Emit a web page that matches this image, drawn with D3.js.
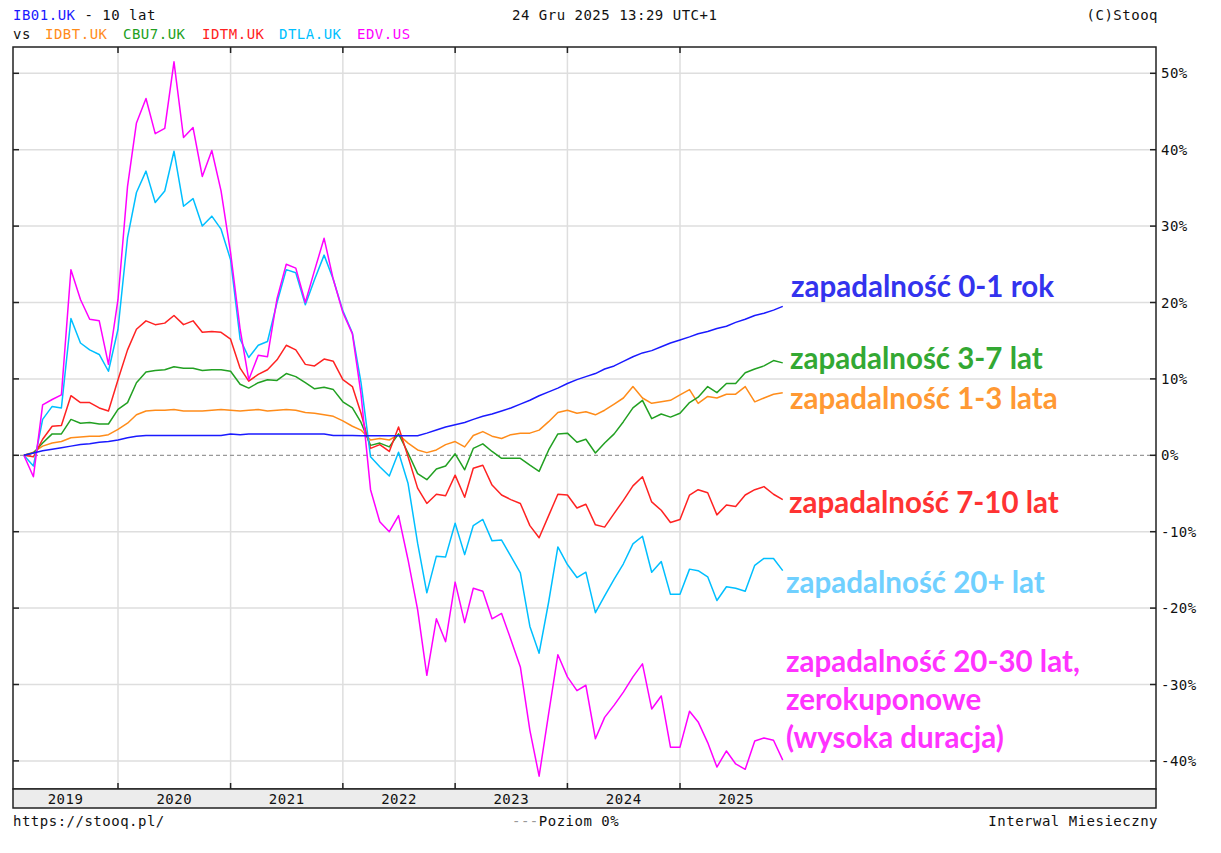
<!DOCTYPE html>
<html>
<head>
<meta charset="utf-8">
<script src="https://cdn.jsdelivr.net/npm/d3@7"></script>
<style>
body{margin:0;background:#fff}
svg{display:block}
.mono{font-family:"DejaVu Sans Mono",monospace;font-size:14px;letter-spacing:0.5px;fill:#111}
.note{font-family:Lato,"Open Sans",sans-serif;font-weight:bold;font-size:29.5px}
</style>
</head>
<body>
<svg id="chart" width="1221" height="853"></svg>
<script>
// monthly points, first one at march 2019, last one at december 2025
var months = d3.utcMonth.range(new Date(Date.UTC(2019,2,1)), new Date(Date.UTC(2026,0,1)));

// % change since start
var ib01 = [0,0.3,0.6,0.8,1.0,1.2,1.4,1.5,1.7,1.8,
  2.0,2.3,2.5,2.6,2.6,2.6,2.6,2.6,2.6,2.6,
  2.6,2.6,2.8,2.7,2.8,2.8,2.8,2.8,2.8,2.8,
  2.8,2.8,2.8,2.6,2.6,2.6,2.55,2.55,2.55,2.55,
  2.55,2.55,2.55,2.9,3.3,3.7,4.0,4.3,4.7,5.1,
  5.4,5.8,6.2,6.7,7.2,7.8,8.3,8.8,9.4,9.9,
  10.3,10.7,11.3,11.7,12.3,12.9,13.4,13.7,14.2,14.7,
  15.1,15.5,15.9,16.2,16.6,16.9,17.4,17.8,18.3,18.6,
  19.0,19.5];
var idbt = [0,0.4,1.2,1.6,1.8,2.3,2.4,2.5,2.5,2.7,
  3.4,4.2,5.3,5.8,5.9,5.9,6.0,5.8,5.8,5.8,
  5.9,6.0,5.9,5.8,5.9,6.0,5.8,5.9,6.0,5.9,
  5.6,5.5,5.3,5.1,4.5,3.8,3.3,2.0,2.2,2.0,
  2.7,1.6,0.7,0.35,0.7,1.4,1.8,1.1,2.6,3.1,
  2.5,2.2,2.7,2.9,2.9,3.3,4.4,5.6,5.9,5.5,
  5.7,5.3,5.9,6.7,7.5,9.0,7.5,6.8,7.0,7.2,
  7.9,8.6,6.8,7.7,7.5,8.0,8.0,9.0,7.0,7.5,
  8.0,8.2];
var cbu7 = [0,0.3,1.6,2.8,2.8,4.7,4.2,4.3,4.1,4.1,
  6.0,6.9,9.5,10.9,11.1,11.2,11.6,11.4,11.4,11.1,
  11.2,11.2,11.0,9.3,8.8,9.5,9.9,9.8,10.7,10.3,
  9.5,8.7,8.9,8.6,7.0,6.2,4.3,1.3,1.6,1.1,
  2.8,0.3,-2.4,-3.2,-1.8,-1.4,0.2,-1.9,0.9,1.5,
  0.5,-0.4,-0.4,-0.4,-1.3,-2.1,0.7,2.8,2.9,1.7,
  2.1,0.3,1.6,2.8,4.4,6.2,7.2,4.8,5.4,5.0,
  5.5,6.9,7.6,9.0,8.2,9.4,9.4,10.8,11.3,11.7,
  12.4,12.1];
var idtm = [0,-0.2,2.1,3.8,3.9,7.8,6.9,6.9,6.2,5.8,
  9.9,13.8,16.5,17.6,17.1,17.3,18.3,17.1,17.6,16.1,
  16.2,16.1,15.2,11.4,9.7,10.6,11.2,12.5,14.4,13.8,
  11.9,11.7,12.6,12.3,9.9,9.0,5.5,0.9,1.4,0.5,
  3.7,-0.2,-4.3,-6.3,-5.1,-5.3,-2.6,-5.5,-1.7,-1.3,
  -3.9,-5.2,-5.8,-6.3,-9.2,-10.8,-7.9,-5.1,-5.2,-6.9,
  -6.4,-9.1,-9.4,-7.6,-5.9,-4.0,-2.8,-6.1,-7.2,-8.8,
  -8.4,-5.2,-4.5,-4.9,-7.8,-6.5,-6.7,-5.2,-4.5,-4.1,
  -5.1,-5.8];
var dtla = [0,-1.4,4.7,6.4,6.2,17.9,14.7,13.8,13.2,11.0,
  16.5,28.5,34.4,37.2,33.1,34.6,39.8,32.6,33.6,30.0,
  31.3,29.6,25.6,15.2,12.8,14.4,14.9,20.0,24.3,23.9,
  19.7,23.0,26.2,23.0,18.9,16.0,9.5,-0.2,-1.5,-2.7,
  0.4,-3.7,-11.5,-18.0,-13.2,-13.3,-8.9,-13.0,-9.2,-8.4,
  -11.2,-11.1,-13.2,-15.4,-22.4,-25.9,-19.2,-12.0,-14.3,-16.0,
  -15.3,-20.6,-18.4,-16.2,-14.2,-11.6,-10.6,-15.3,-13.9,-18.2,
  -18.2,-14.9,-15.1,-15.9,-19.0,-17.2,-17.4,-17.8,-14.4,-13.5,
  -13.5,-15.1];
var edv = [0,-2.8,6.6,7.3,7.9,24.3,20.4,17.8,17.6,11.9,
  20.4,35.2,43.5,46.7,42.1,42.8,51.5,41.6,42.9,36.5,
  39.9,34.6,26.5,16.5,9.9,13.1,12.9,20.5,25.0,24.5,
  20.0,24.2,28.4,23.0,18.7,15.9,8.0,-4.5,-8.7,-10.0,
  -7.9,-13.7,-20.2,-28.8,-21.4,-24.4,-16.6,-21.9,-17.4,-17.8,
  -21.4,-20.7,-24.1,-27.7,-36.0,-42.0,-33.8,-26.1,-29.0,-30.8,
  -30.1,-37.1,-34.3,-32.7,-31.0,-29.0,-27.3,-33.2,-31.5,-38.2,
  -38.2,-33.5,-34.9,-37.6,-40.8,-38.7,-40.4,-41.1,-37.4,-37.0,
  -37.3,-39.9];

var tickers = ["IB01.UK","IDBT.UK","CBU7.UK","IDTM.UK","DTLA.UK","EDV.US"];
var lineColors = ["#1a1aff","#ff8c1a","#22a022","#ff2222","#00bfff","#ff00ff"];
var yTicks = [50,40,30,20,10,0,-10,-20,-30,-40];
var years = [2019,2020,2021,2022,2023,2024,2025];

var noteLines = ["zapadalność 0-1 rok","zapadalność 3-7 lat","zapadalność 1-3 lata","zapadalność 7-10 lat",
  "zapadalność 20+ lat","zapadalność 20-30 lat,","zerokuponowe","(wysoka duracja)"];
var noteColors = ["#3333ee","#33a833","#ff9933","#ff3333","#70d0ff","#ff33ff","#ff33ff","#ff33ff"];

var cfg = {
  left : 13, right : 1156, top : 47, bottom : 789, bandBottom : 808,
  tick : 6,
  lineWidth : 1.5,
  gridColor : "#dedede",
  // where the hand written notes sit
  notes : [[791,297],[790,369],[790,409],[789,513],[786,593],[786,672],[786,710],[786,748]],
  headerX : [45,123,202,279,357]
};

var svg = d3.select("#chart");

var x = d3.scaleUtc()
  .domain([new Date(Date.UTC(2020,0,1)), new Date(Date.UTC(2025,0,1))])
  .range([118, 680]);
var y = d3.scaleLinear().domain([0, 50]).range([455.3, 73.3]);

function yearStart(yr){ return x(new Date(Date.UTC(yr,0,1))); }

//grid
svg.append("g").selectAll("line")
  .data(years.slice(1))
  .enter().append("line")
  .attr("x1", yearStart).attr("x2", yearStart)
  .attr("y1", cfg.top).attr("y2", cfg.bottom)
  .attr("stroke", cfg.gridColor).attr("stroke-width", 1.5);

svg.append("g").selectAll("line")
  .data(yTicks.filter(function(d){ return d !== 0; }))
  .enter().append("line")
  .attr("x1", cfg.left).attr("x2", cfg.right)
  .attr("y1", y).attr("y2", y)
  .attr("stroke", cfg.gridColor).attr("stroke-width", 1.5);

svg.append("line")
  .attr("x1", cfg.left).attr("x2", cfg.right)
  .attr("y1", y(0)).attr("y2", y(0))
  .attr("stroke", "#999").attr("stroke-width", 1.2)
  .attr("stroke-dasharray", "4,3");

//series, main one on top
var all = [idbt, cbu7, idtm, dtla, edv, ib01];
var allColors = [lineColors[1], lineColors[2], lineColors[3], lineColors[4], lineColors[5], lineColors[0]];
var line = d3.line()
  .x(function(d, i){ return x(months[i]); })
  .y(function(d){ return y(d); });

all.forEach(function(values, j){
  svg.append("path")
    .attr("d", line(values))
    .attr("fill", "none")
    .attr("stroke", allColors[j])
    .attr("stroke-width", cfg.lineWidth)
    .attr("stroke-linejoin", "round");
});

//frame + ticks
svg.append("rect")
  .attr("x", cfg.left).attr("y", cfg.top)
  .attr("width", cfg.right - cfg.left).attr("height", cfg.bottom - cfg.top)
  .attr("fill", "none").attr("stroke", "#222").attr("stroke-width", 1.5);

svg.append("rect")
  .attr("x", cfg.left).attr("y", cfg.bottom)
  .attr("width", cfg.right - cfg.left).attr("height", cfg.bandBottom - cfg.bottom)
  .attr("fill", "#ececec").attr("stroke", "#222").attr("stroke-width", 1.5);

var ticks = svg.append("g").attr("stroke", "#222").attr("stroke-width", 1.5);
yTicks.forEach(function(v){
  ticks.append("line").attr("x1", cfg.left).attr("x2", cfg.left + cfg.tick).attr("y1", y(v)).attr("y2", y(v));
  ticks.append("line").attr("x1", cfg.right - cfg.tick).attr("x2", cfg.right).attr("y1", y(v)).attr("y2", y(v));
});
years.slice(1).forEach(function(yr){
  ticks.append("line").attr("x1", yearStart(yr)).attr("x2", yearStart(yr)).attr("y1", cfg.top).attr("y2", cfg.top + cfg.tick);
  ticks.append("line").attr("x1", yearStart(yr)).attr("x2", yearStart(yr)).attr("y1", cfg.bottom - cfg.tick).attr("y2", cfg.bottom);
});

//y labels
svg.append("g").selectAll("text")
  .data(yTicks)
  .enter().append("text")
  .attr("class", "mono")
  .attr("x", 1161)
  .attr("y", function(d){ return y(d) + 5; })
  .text(function(d){ return d + "%"; });

//x labels, centered on each year
svg.append("g").selectAll("text")
  .data(years)
  .enter().append("text")
  .attr("class", "mono")
  .attr("text-anchor", "middle")
  .attr("x", function(d){
    var a = Math.max(cfg.left, yearStart(d));
    return (a + yearStart(d + 1)) / 2;
  })
  .attr("y", 804)
  .text(function(d){ return d; });

//header
var h1 = svg.append("text").attr("class", "mono").attr("x", 13).attr("y", 20);
h1.append("tspan").style("fill", lineColors[0]).text(tickers[0]);
h1.append("tspan").text(" - 10 lat");
svg.append("text").attr("class", "mono").attr("x", 512).attr("y", 20).text("24 Gru 2025 13:29 UTC+1");
svg.append("text").attr("class", "mono").attr("text-anchor", "end").attr("x", 1158).attr("y", 20).text("(C)Stooq");

svg.append("text").attr("class", "mono").attr("x", 13).attr("y", 39).text("vs");
svg.append("g").selectAll("text")
  .data(tickers.slice(1))
  .enter().append("text")
  .attr("class", "mono")
  .attr("x", function(d, i){ return cfg.headerX[i]; })
  .attr("y", 39)
  .style("fill", function(d, i){ return lineColors[i + 1]; })
  .text(function(d){ return d; });

//footer
svg.append("text").attr("class", "mono").attr("x", 13).attr("y", 826).text("https://stooq.pl/");
var f = svg.append("text").attr("class", "mono").attr("x", 512).attr("y", 826);
f.append("tspan").style("fill", "#999").text("---");
f.append("tspan").text("Poziom 0%");
svg.append("text").attr("class", "mono").attr("text-anchor", "end").attr("x", 1158).attr("y", 826).text("Interwal Miesieczny");

//notes
svg.append("g").selectAll("text")
  .data(noteLines)
  .enter().append("text")
  .attr("class", "note")
  .attr("x", function(d, i){ return cfg.notes[i][0]; })
  .attr("y", function(d, i){ return cfg.notes[i][1]; })
  .style("fill", function(d, i){ return noteColors[i]; })
  .text(function(d){ return d; });
</script>
</body>
</html>
